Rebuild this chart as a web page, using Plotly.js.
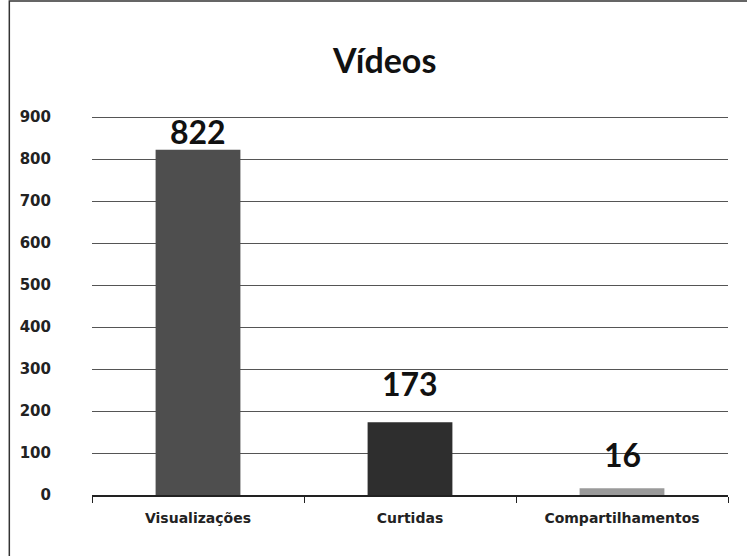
<!DOCTYPE html>
<html><head><meta charset="utf-8">
<script src="https://cdn.plot.ly/plotly-3.0.1.min.js"></script>
<style>body{margin:0;background:#fff}#c{width:747px;height:556px}</style>
</head><body><div id="c"></div>
<script>
const categories = ["Visualizações", "Curtidas", "Compartilhamentos"];
const values = [822, 173, 16];
const yTicks = [0, 100, 200, 300, 400, 500, 600, 700, 800, 900];

const barColors = ["#4e4e4e", "#2e2e2e", "#9a9a9a"];
const labelShift = [18, 39, 34];

Plotly.newPlot("c", [{
  type: "bar",
  x: categories,
  y: values,
  marker: {color: barColors, line: {width: 0}},
  width: 0.4,
  hoverinfo: "skip"
}], {
  width: 747, height: 556,
  paper_bgcolor: "#fff", plot_bgcolor: "#fff",
  margin: {l: 92, r: 19, t: 115, b: 61},
  title: {text: "<b>Vídeos</b>", x: 0.515, xanchor: "center", y: 0.89, yanchor: "middle",
          font: {family: "Lato", size: 34, color: "#111"}},
  showlegend: false,
  bargap: 0.6,
  xaxis: {
    tickson: "boundaries", ticks: "outside", ticklen: 6, tickcolor: "#222",
    showline: true, linecolor: "#222", linewidth: 1.5,
    ticklabelstandoff: 10,
    tickfont: {family: "DejaVu Sans", size: 14, color: "#222", weight: "bold"},
    fixedrange: true
  },
  yaxis: {
    range: [0, 905], tickvals: yTicks, ticktext: yTicks.map(String),
    showgrid: true, gridcolor: "#555", gridwidth: 1,
    zeroline: false, showline: false, ticks: "",
    ticklabelstandoff: 40,
    tickfont: {family: "DejaVu Sans", size: 15, color: "#222", weight: "bold"},
    fixedrange: true
  },
  annotations: categories.map((c, i) => ({
    x: c, y: values[i], xref: "x", yref: "y",
    text: "<b>" + values[i] + "</b>", showarrow: false,
    yanchor: "middle", yshift: labelShift[i],
    font: {family: "Lato", size: 32, color: "#111"}
  })),
  shapes: [{type: "rect", xref: "paper", yref: "paper",
            x0: -0.13, x1: 1.05, y0: -0.2, y1: 1.3,
            line: {color: "#333", width: 1.5}, fillcolor: "rgba(0,0,0,0)"}]
}, {staticPlot: true});
</script></body></html>
